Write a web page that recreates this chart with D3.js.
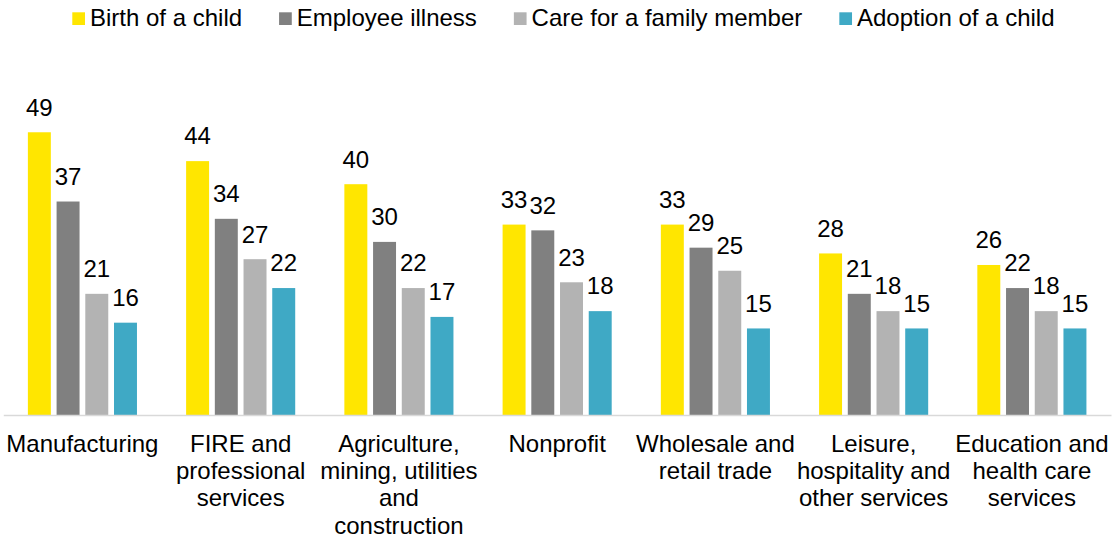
<!DOCTYPE html>
<html>
<head>
<meta charset="utf-8">
<script src="https://cdn.jsdelivr.net/npm/d3@7"></script>
<style>
  body { margin: 0; background: #fff; }
  text { font-family: "Liberation Sans", Arial, sans-serif; }
</style>
</head>
<body>
<div id="chart"></div>
<script>
// Data
const categories = [
  "Manufacturing",
  "FIRE and\nprofessional\nservices",
  "Agriculture,\nmining, utilities\nand\nconstruction",
  "Nonprofit",
  "Wholesale and\nretail trade",
  "Leisure,\nhospitality and\nother services",
  "Education and\nhealth care\nservices"
];
const seriesNames = ["Birth of a child", "Employee illness", "Care for a family member", "Adoption of a child"];
const birth     = [49, 44, 40, 33, 33, 28, 26];
const illness   = [37, 34, 30, 32, 29, 21, 22];
const care      = [21, 27, 22, 23, 25, 18, 18];
const adoption  = [16, 22, 17, 18, 15, 15, 15];
const colors = ["#FFE600", "#808080", "#B3B3B3", "#3FA9C5"];

const seriesValues = [birth, illness, care, adoption];

// Canvas
const width = 1113, height = 538;
const baseline = 415;

const svg = d3.select("#chart")
    .append("svg")
    .attr("width", width)
    .attr("height", height);

// Scales
const x0 = d3.scaleBand()
    .domain(categories)
    .range([3.3, 1111])
    .padding(0);

const x1 = d3.scaleBand()
    .domain(seriesNames)
    .range([0, x0.bandwidth()])
    .paddingInner(0.2)
    .paddingOuter(0.856);

const y = d3.scaleLinear()
    .domain([0, 50])
    .range([baseline, baseline - 50 * 5.77]);

// Bars + value labels
categories.forEach((cat, i) => {
    const g = svg.append("g")
        .attr("transform", `translate(${x0(cat)},0)`);

    seriesNames.forEach((name, s) => {
        const v = seriesValues[s][i];
        g.append("rect")
            .attr("x", x1(name))
            .attr("y", y(v))
            .attr("width", x1.bandwidth())
            .attr("height", y(0) - y(v))
            .attr("fill", colors[s]);

        g.append("text")
            .attr("x", x1(name) + x1.bandwidth() / 2)
            .attr("y", y(v) - 16.7)
            .attr("text-anchor", "middle")
            .attr("font-size", "24px")
            .attr("fill", "#000")
            .text(v);
    });
});

// X axis (line only, labels drawn as wrapped lines)
const xAxis = svg.append("g")
    .attr("transform", `translate(0,${baseline})`)
    .call(d3.axisBottom(x0).tickSize(0).tickFormat(""));

xAxis.select(".domain")
    .attr("stroke", "#D9D9D9")
    .attr("stroke-width", 1.5);

xAxis.selectAll(".tick").each(function(d) {
    const t = d3.select(this).append("text")
        .attr("text-anchor", "middle")
        .attr("font-size", "24px")
        .attr("fill", "#000");
    d.split("\n").forEach((line, k) => {
        t.append("tspan")
            .attr("x", 0)
            .attr("y", 36.7 + k * 27.3)
            .text(line);
    });
});

// Legend
const legend = svg.append("g");
let lx = 72.3;
seriesNames.forEach((name, s) => {
    legend.append("rect")
        .attr("x", lx)
        .attr("y", 12.3)
        .attr("width", 12.7)
        .attr("height", 12.7)
        .attr("fill", colors[s]);
    const t = legend.append("text")
        .attr("x", lx + 17.7)
        .attr("y", 26)
        .attr("font-size", "24px")
        .attr("fill", "#000")
        .text(name);
    lx += 17.7 + t.node().getComputedTextLength() + 37;
});
</script>
</body>
</html>
